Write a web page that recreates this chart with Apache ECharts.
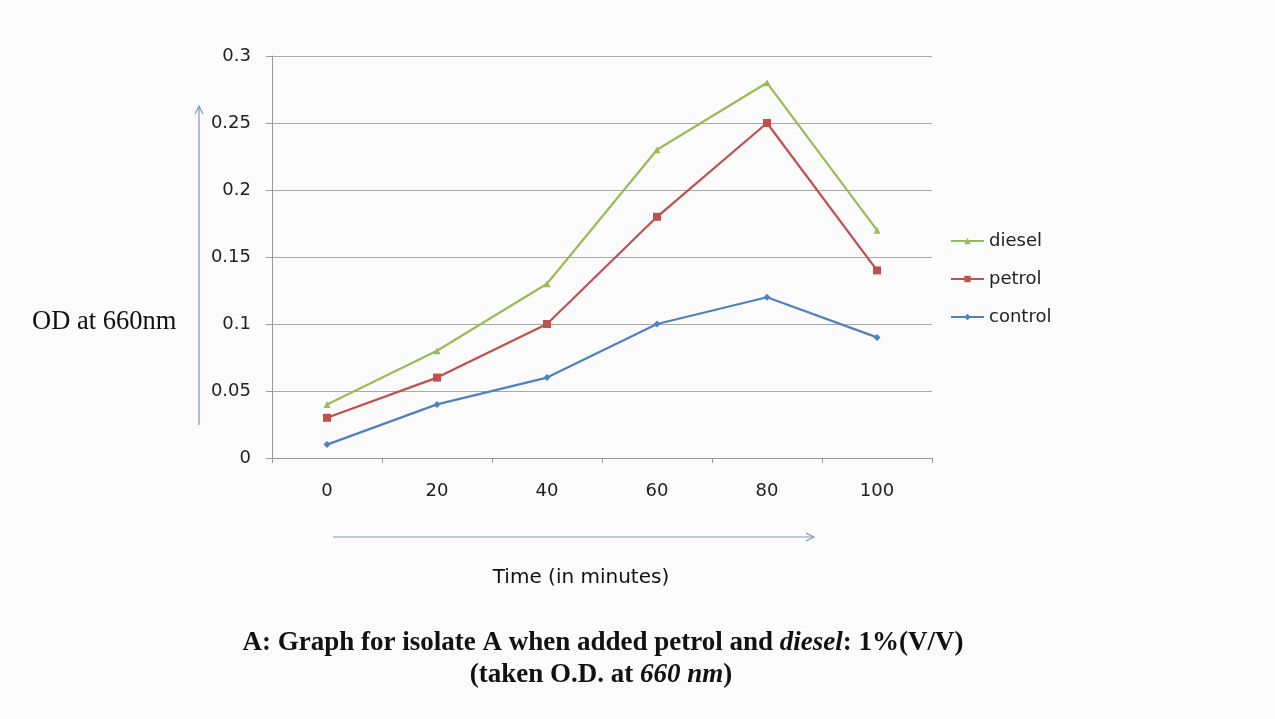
<!DOCTYPE html>
<html>
<head>
<meta charset="utf-8">
<script src="https://cdn.jsdelivr.net/npm/echarts@6/dist/echarts.min.js"></script>
<style>
  html, body { margin: 0; padding: 0; background: #fbfbfb; }
  #chart { width: 1275px; height: 719px; }
</style>
</head>
<body>
<div id="chart"></div>
<script>
const times = ['0', '20', '40', '60', '80', '100'];
const diesel = [0.04, 0.08, 0.13, 0.23, 0.28, 0.17];
const petrol = [0.03, 0.06, 0.10, 0.18, 0.25, 0.14];
const control = [0.01, 0.04, 0.06, 0.10, 0.12, 0.09];
const yTicks = [0, 0.05, 0.1, 0.15, 0.2, 0.25, 0.3];

const chart = echarts.init(document.getElementById('chart'));
const arrowColor = '#8094c4';
const sans = 'DejaVu Sans';

const option = {
  backgroundColor: '#fbfbfb',
  animation: false,
  grid: { left: 272, right: 343, top: 56, bottom: 261 },
  legend: {
    orient: 'vertical',
    left: 945,
    top: 227,
    itemGap: 20,
    itemWidth: 33,
    itemHeight: 8,
    textStyle: { fontFamily: sans, fontSize: 18, color: '#222' },
    data: ['diesel', 'petrol', 'control']
  },
  xAxis: {
    type: 'category',
    data: times,
    axisLine: { lineStyle: { color: '#9a9a9a' } },
    axisTick: { show: true, length: 5, lineStyle: { color: '#9a9a9a' } },
    axisLabel: { fontFamily: sans, fontSize: 18, color: '#222', margin: 24 }
  },
  yAxis: {
    type: 'value',
    min: 0,
    max: yTicks[yTicks.length - 1],
    interval: 0.05,
    axisLine: { show: true, lineStyle: { color: '#9a9a9a' } },
    axisTick: { show: true, length: 6, lineStyle: { color: '#9a9a9a' } },
    splitLine: { lineStyle: { color: '#a8a8a8' } },
    axisLabel: { fontFamily: sans, fontSize: 18, color: '#222', margin: 21 }
  },
  series: [
    {
      name: 'diesel', type: 'line', data: diesel,
      color: '#9bbb59', symbol: 'triangle', symbolSize: 7,
      lineStyle: { width: 2.2 }
    },
    {
      name: 'petrol', type: 'line', data: petrol,
      color: '#c0504d', symbol: 'rect', symbolSize: 8,
      lineStyle: { width: 2.2 }
    },
    {
      name: 'control', type: 'line', data: control,
      color: '#4f81bd', symbol: 'diamond', symbolSize: 7,
      lineStyle: { width: 2.2 }
    }
  ],
  graphic: [
    // vertical arrow
    { type: 'line', shape: { x1: 199, y1: 425, x2: 199, y2: 106 }, style: { stroke: arrowColor, lineWidth: 1.2 } },
    { type: 'polyline', shape: { points: [[195, 114], [199, 106], [203, 114]] }, style: { stroke: arrowColor, fill: null, lineWidth: 1.2 } },
    // horizontal arrow
    { type: 'line', shape: { x1: 333, y1: 537, x2: 814, y2: 537 }, style: { stroke: arrowColor, lineWidth: 1.2 } },
    { type: 'polyline', shape: { points: [[806, 533], [814, 537], [806, 541]] }, style: { stroke: arrowColor, fill: null, lineWidth: 1.2 } },
    {
      type: 'text', x: 32, y: 322,
      style: { text: 'OD at 660nm', font: '26.5px "Liberation Serif"', fill: '#111', verticalAlign: 'middle' }
    },
    {
      type: 'text', x: 581, y: 578,
      style: { text: 'Time (in minutes)', font: '20px "DejaVu Sans"', fill: '#111', align: 'center', verticalAlign: 'middle' }
    },
    {
      type: 'text', x: 603, y: 643,
      style: {
        text: '{b|A: Graph for isolate A when added petrol and }{i|diesel}{b|: 1%(V/V)}',
        align: 'center', verticalAlign: 'middle',
        rich: {
          b: { font: 'bold 27px "Liberation Serif"', fill: '#111' },
          i: { font: 'italic bold 27px "Liberation Serif"', fill: '#111' }
        }
      }
    },
    {
      type: 'text', x: 601, y: 675,
      style: {
        text: '{b|(taken O.D. at }{i|660 nm}{b|)}',
        align: 'center', verticalAlign: 'middle',
        rich: {
          b: { font: 'bold 27px "Liberation Serif"', fill: '#111' },
          i: { font: 'italic bold 27px "Liberation Serif"', fill: '#111' }
        }
      }
    }
  ]
};
chart.setOption(option);
</script>
</body>
</html>
